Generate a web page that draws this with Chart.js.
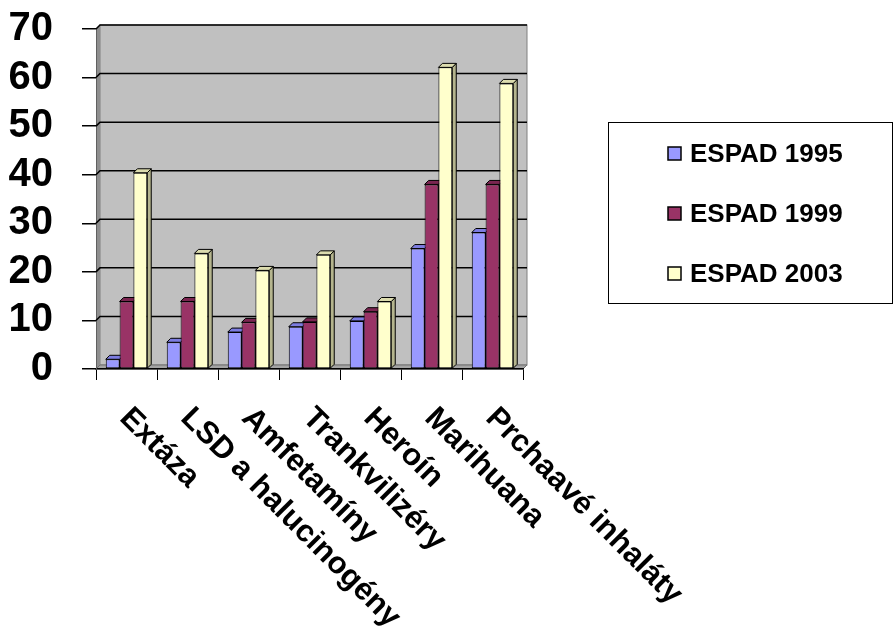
<!DOCTYPE html>
<html>
<head>
<meta charset="utf-8">
<title>ESPAD</title>
<script src="https://cdn.jsdelivr.net/npm/chart.js@4.4.0/dist/chart.umd.min.js"></script>
<style>
  body { margin: 0; background: #fff; }
</style>
</head>
<body>
<canvas id="graf" width="894" height="631"></canvas>
<script>
// drogy a podíl studentů, kteří je vyzkoušeli
var kategorie = ['Extáza', 'LSD a halucinogény', 'Amfetamíny', 'Trankvilizéry', 'Heroín', 'Marihuana', 'Prchaavé inhaláty'];
var espad1995 = [2, 5.5, 7.6, 8.7, 9.9, 24.8, 28.1];
var espad1999 = [13.9, 13.9, 9.6, 9.7, 11.8, 38, 38];
var espad2003 = [40.4, 23.8, 20.3, 23.5, 13.9, 62.1, 58.8];
var roky = ['ESPAD 1995', 'ESPAD 1999', 'ESPAD 2003'];
var osaY = [0, 10, 20, 30, 40, 50, 60, 70];

var barvy = ['#9999FF', '#993366', '#FFFFCC'];
var boky = ['#6666b8', '#66203f', '#b5b58e'];
var vrchy = ['#7c7ce0', '#7a2550', '#dcdcae'];
var hloubka = 4;
var pismo = '"Liberation Sans", Arial, sans-serif';

// zadni stena, leva stena a podlaha
var stena = {
  id: 'stena',
  beforeDraw: function (chart) {
    var c = chart.ctx, a = chart.chartArea, d = hloubka;
    c.save();
    c.fillStyle = '#C0C0C0';
    c.fillRect(a.left + d, a.top - d, a.right - a.left, a.bottom - a.top);
    c.strokeStyle = '#808080';
    c.lineWidth = 1;
    c.strokeRect(a.left + d, a.top - d, a.right - a.left, a.bottom - a.top);
    c.fillStyle = '#8e8e8e';
    c.beginPath();
    c.moveTo(a.left, a.top); c.lineTo(a.left + d, a.top - d);
    c.lineTo(a.left + d, a.bottom - d); c.lineTo(a.left, a.bottom);
    c.closePath(); c.fill();
    c.fillStyle = '#a4a4a4';
    c.beginPath();
    c.moveTo(a.left, a.bottom); c.lineTo(a.left + d, a.bottom - d);
    c.lineTo(a.right + d, a.bottom - d); c.lineTo(a.right, a.bottom);
    c.closePath(); c.fill();
    c.strokeStyle = '#707070';
    c.stroke();
    c.restore();
  },
  beforeDatasetsDraw: function (chart) {
    var c = chart.ctx, a = chart.chartArea, d = hloubka;
    var ys = chart.scales.y;
    c.save();
    // mrizka na zadni stene
    c.strokeStyle = '#000';
    c.lineWidth = 1.5;
    osaY.forEach(function (v) {
      if (v === 0) return;
      var y = ys.getPixelForValue(v);
      c.beginPath();
      c.moveTo(a.left, y);
      c.lineTo(a.left + d, y - d);
      c.lineTo(a.right + d, y - d);
      c.stroke();
    });
    // boky a vrchy sloupcu, zleva doprava
    c.lineWidth = 1;
    c.strokeStyle = '#000';
    for (var i = 0; i < kategorie.length; i++) {
      chart.data.datasets.forEach(function (ds, j) {
        var el = chart.getDatasetMeta(j).data[i];
        var p = el.getProps(['x', 'y', 'base', 'width'], true);
        var l = p.x - p.width / 2, r = p.x + p.width / 2;
        c.fillStyle = boky[j];
        c.beginPath();
        c.moveTo(r, p.y); c.lineTo(r + d, p.y - d);
        c.lineTo(r + d, p.base - d); c.lineTo(r, p.base);
        c.closePath(); c.fill(); c.stroke();
        c.fillStyle = vrchy[j];
        c.beginPath();
        c.moveTo(l, p.y); c.lineTo(l + d, p.y - d);
        c.lineTo(r + d, p.y - d); c.lineTo(r, p.y);
        c.closePath(); c.fill(); c.stroke();
      });
    }
    c.restore();
  },
  afterDraw: function (chart) {
    var c = chart.ctx, a = chart.chartArea;
    var xs = chart.scales.x;
    c.save();
    // sikme popisky kategorii
    c.fillStyle = '#000';
    c.font = 'bold 31px ' + pismo;
    c.textAlign = 'left';
    c.textBaseline = 'alphabetic';
    kategorie.forEach(function (k, i) {
      c.save();
      c.translate(xs.getPixelForValue(i) + 9, a.bottom + 36);
      c.rotate(Math.PI / 4);
      c.fillText(k, -2, 22);
      c.restore();
    });
    // legenda v ramecku
    c.fillStyle = '#fff';
    c.fillRect(608.5, 122.5, 284, 181);
    c.strokeStyle = '#000';
    c.lineWidth = 1;
    c.strokeRect(608.5, 122.5, 284, 181);
    c.font = 'bold 26px ' + pismo;
    c.textBaseline = 'middle';
    chart.data.datasets.forEach(function (ds, j) {
      var y = 154 + j * 60;
      c.fillStyle = ds.backgroundColor;
      c.fillRect(668, y - 7, 13, 13);
      c.lineWidth = 1.5;
      c.strokeRect(668, y - 7, 13, 13);
      c.fillStyle = '#000';
      c.fillText(ds.label, 690, y + 1);
    });
    c.restore();
  }
};

new Chart(document.getElementById('graf'), {
  type: 'bar',
  data: {
    labels: kategorie,
    datasets: [
      { label: roky[0], data: espad1995, backgroundColor: barvy[0] },
      { label: roky[1], data: espad1999, backgroundColor: barvy[1] },
      { label: roky[2], data: espad2003, backgroundColor: barvy[2] }
    ]
  },
  options: {
    responsive: false,
    animation: false,
    events: [],
    layout: { padding: { top: 29, right: 371, left: 0, bottom: 0 } },
    datasets: {
      bar: {
        borderColor: '#000',
        borderWidth: 1,
        borderSkipped: false,
        categoryPercentage: 0.68,
        barPercentage: 1
      }
    },
    plugins: {
      legend: { display: false },
      tooltip: { enabled: false }
    },
    scales: {
      x: {
        ticks: { display: false },
        grid: { offset: true, drawOnChartArea: false, tickLength: 11, color: '#000', lineWidth: 1 },
        border: { color: '#000', width: 1.5 },
        afterFit: function (s) { s.height = 262; }
      },
      y: {
        min: 0,
        max: 70,
        ticks: {
          stepSize: 10,
          autoSkip: false,
          color: '#000',
          padding: 29,
          font: { family: pismo, size: 40, weight: 'bold' }
        },
        grid: { drawOnChartArea: false, tickLength: 14, color: '#000', lineWidth: 1.5 },
        border: { color: '#606060', width: 1 },
        afterFit: function (s) {
          s.width = 96;
          s.paddingTop = 0;
          s.paddingBottom = 0;
        }
      }
    }
  },
  plugins: [stena]
});
</script>
</body>
</html>
